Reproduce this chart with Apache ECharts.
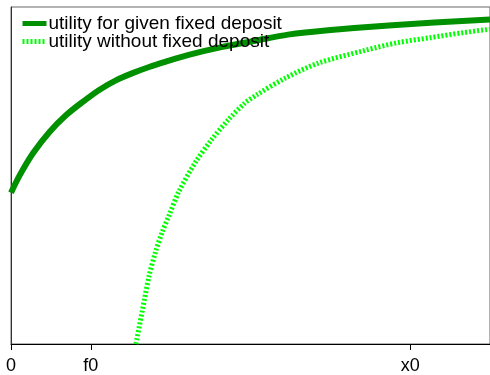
<!DOCTYPE html>
<html>
<head>
<meta charset="utf-8">
<script src="https://cdn.jsdelivr.net/npm/echarts@6/dist/echarts.min.js"></script>
<style>
  html, body { margin: 0; padding: 0; background: #fff; }
  #chart { width: 490px; height: 375px; }
</style>
</head>
<body>
<div id="chart"></div>
<script>
// Wealth axis ticks and their names
const tickValues = [0, 2, 10];
const tickLabels = ['0', 'f0', 'x0'];

// Utility with the fixed deposit already held
const fixedX = [0, 0.22, 0.55, 0.97, 1.39, 1.79, 2.21, 2.64, 3.03, 3.46, 3.88, 4.45, 5.27, 6.12, 6.94, 7.94, 9.55, 12];
const fixedY = [4.49, 5.01, 5.66, 6.30, 6.80, 7.18, 7.54, 7.83, 8.03, 8.22, 8.38, 8.58, 8.81, 9.00, 9.18, 9.31, 9.46, 9.63];

// Utility without the fixed deposit
const plainX = [3.13, 3.29, 3.46, 3.62, 3.79, 3.96, 4.20, 4.62, 5.03, 5.45, 5.86, 6.15, 6.87, 7.69, 8.86, 9.68, 10.50, 11.34, 12];
const plainY = [0, 0.99, 2.02, 2.73, 3.33, 3.82, 4.51, 5.39, 6.07, 6.66, 7.15, 7.39, 7.89, 8.33, 8.71, 8.94, 9.09, 9.24, 9.34];

const seriesNames = ['utility for given fixed deposit', 'utility without fixed deposit'];

const pairs = (xs, ys) => xs.map((x, i) => [x, ys[i]]);
const font = '"Liberation Sans", Arial, sans-serif';

const chart = echarts.init(document.getElementById('chart'), null, { renderer: 'canvas' });
chart.setOption({
  animation: false,
  backgroundColor: '#fff',
  grid: {
    left: 11, top: 7, right: -3, bottom: 28,
    show: true, borderColor: '#666', borderWidth: 1, backgroundColor: 'transparent'
  },
  legend: {
    orient: 'vertical',
    left: 15, top: 9,
    itemWidth: 24, itemHeight: 14, itemGap: -1,
    itemStyle: { opacity: 0 },
    lineStyle: { width: 5 },
    textStyle: { fontFamily: font, fontSize: 19, color: '#000', padding: [0, 0, 0, -3] },
    data: seriesNames
  },
  xAxis: {
    type: 'value', min: 0, max: 12,
    axisLine: { lineStyle: { color: '#000', width: 1 } },
    axisTick: { show: true, length: 6, customValues: tickValues, lineStyle: { color: '#000' } },
    axisLabel: {
      customValues: tickValues,
      formatter: v => tickLabels[tickValues.indexOf(v)] || '',
      fontFamily: font, fontSize: 18, color: '#000', margin: 13
    },
    splitLine: { show: false }
  },
  yAxis: {
    type: 'value', min: 0, max: 10,
    axisLine: { show: true, lineStyle: { color: '#333', width: 1 } },
    axisTick: { show: false },
    axisLabel: { show: false },
    splitLine: { show: false }
  },
  series: [
    {
      name: seriesNames[0], type: 'line', data: pairs(fixedX, fixedY),
      smooth: 0.3, symbol: 'none', clip: true,
      lineStyle: { color: '#009000', width: 6 },
      itemStyle: { color: '#009000' }
    },
    {
      name: seriesNames[1], type: 'line', data: pairs(plainX, plainY),
      smooth: 0.3, symbol: 'none', clip: true,
      lineStyle: { color: '#00ff00', width: 5, type: [2, 2] },
      itemStyle: { color: '#00ff00' }
    }
  ]
});
</script>
</body>
</html>
